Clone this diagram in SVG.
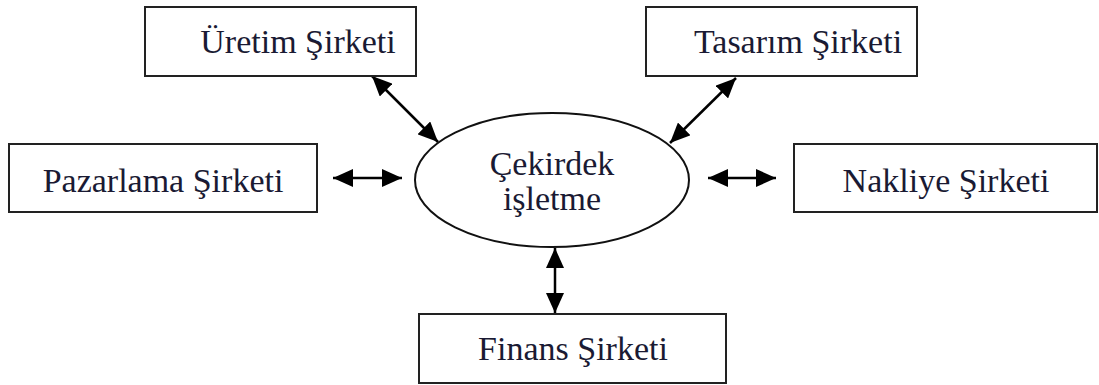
<svg xmlns="http://www.w3.org/2000/svg" width="1099" height="385" viewBox="0 0 1099 385">
<style>
.box{fill:#fff;stroke:#222;stroke-width:2}
.lbl{font-family:"Liberation Serif","Times New Roman",serif;font-size:34px;fill:#1a1a33;text-anchor:middle}
.con{stroke:#000;stroke-width:2.5;fill:none;marker-start:url(#ah);marker-end:url(#ah)}
</style>
<defs>
<marker id="ah" viewBox="0 0 20 18" refX="20" refY="9" markerWidth="20" markerHeight="18" markerUnits="userSpaceOnUse" orient="auto-start-reverse">
<path d="M0,0 L20,9 L0,18 Z" fill="#000"/>
</marker>
</defs>
<rect width="1099" height="385" fill="#fff"/>
<g id="connectors">
<line class="con" x1="372" y1="76" x2="438" y2="142"/>
<line class="con" x1="736" y1="78" x2="670" y2="143"/>
<line class="con" x1="333" y1="178" x2="402" y2="178"/>
<line class="con" x1="708" y1="178" x2="776" y2="178"/>
<line class="con" x1="555" y1="248" x2="555" y2="313"/>
</g>
<g id="uretim">
<rect class="box" x="145" y="7" width="271" height="69"/>
<text class="lbl" x="298" y="53">Üretim Şirketi</text>
</g>
<g id="tasarim">
<rect class="box" x="646" y="7" width="271" height="69"/>
<text class="lbl" x="798" y="53">Tasarım Şirketi</text>
</g>
<g id="pazarlama">
<rect class="box" x="9" y="144" width="308" height="68"/>
<text class="lbl" x="163" y="192">Pazarlama Şirketi</text>
</g>
<g id="nakliye">
<rect class="box" x="794" y="144" width="303" height="68"/>
<text class="lbl" x="946" y="192">Nakliye Şirketi</text>
</g>
<g id="cekirdek">
<ellipse cx="552" cy="180" rx="137" ry="67" fill="#fff" stroke="#111" stroke-width="2"/>
<text class="lbl" x="552" y="175">Çekirdek</text>
<text class="lbl" x="552" y="210">işletme</text>
</g>
<g id="finans">
<rect class="box" x="419" y="314" width="307" height="69"/>
<text class="lbl" x="573" y="360">Finans Şirketi</text>
</g>
</svg>
